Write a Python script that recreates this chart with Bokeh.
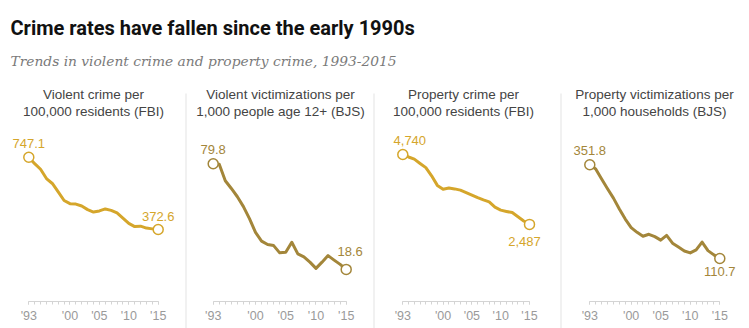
from bokeh.plotting import figure
from bokeh.models import Range1d, LinearAxis, FixedTicker, Label, BoxAnnotation
from bokeh.embed import file_html
from bokeh.resources import INLINE
from bokeh.core.properties import value

# ---------------- data ----------------
years = list(range(1993, 2016))
violent_fbi = [747.1, 713.6, 684.5, 636.6, 611.0, 567.6, 523.0, 506.5, 504.5, 494.4, 475.8,
               463.2, 469.0, 479.3, 471.8, 458.6, 431.9, 404.5, 388.0, 390.0, 380.0, 376.0, 372.6]
violent_bjs = [79.8, 79.5, 70.0, 65.5, 60.7, 55.0, 48.0, 40.0, 35.0, 33.0, 32.4,
               28.2, 28.5, 34.3, 27.6, 25.9, 22.8, 19.2, 22.8, 26.6, 24.0, 21.5, 18.6]
property_fbi = [4740, 4660, 4590, 4451, 4316, 4052, 3744, 3618, 3658, 3631, 3591,
                3514, 3432, 3347, 3276, 3215, 3041, 2946, 2905, 2868, 2734, 2596, 2487]
property_bjs = [351.8, 341.0, 315.0, 290.0, 266.0, 238.0, 212.0, 190.0, 178.0, 168.0, 173.0,
                167.0, 158.0, 170.0, 150.0, 140.0, 130.0, 125.0, 133.0, 153.0, 131.0, 120.0, 110.7]

tick_years = [1993, 2000, 2005, 2010, 2015]
tick_labels = ["'93", "'00", "'05", "'10", "'15"]

headers = [
    ("Violent crime per", "100,000 residents (FBI)"),
    ("Violent victimizations per", "1,000 people age 12+ (BJS)"),
    ("Property crime per", "100,000 residents (FBI)"),
    ("Property victimizations per", "1,000 households (BJS)"),
]
series = [violent_fbi, violent_bjs, property_fbi, property_bjs]

title = "Crime rates have fallen since the early 1990s"
subtitle = "Trends in violent crime and property crime, 1993-2015"

# ---------------- style / layout ----------------
W, H = 749, 328
GOLD = "#D5A62B"
OLIVE = "#A3863A"
colors = [GOLD, OLIVE, GOLD, OLIVE]
fmts = ["{:.1f}", "{:.1f}", "{:,.0f}", "{:.1f}"]
# (x px of first year, x px of last year, px per unit, header centre, label offsets first/last)
geom = [
    (28.3, 157.7, 0.19315, 93, (-14, -13)),
    (212.7, 345.7, 1.7256, 280, (-14, -18)),
    (402.3, 529.0, 0.03101, 463, (-14, 17)),
    (589.3, 719.3, 0.3886, 654, (-14, 13)),
]
xoffs = [(0, 0), (0, 4), (7, -5), (0, 0)]
ZERO_PX = 301
separators = [185, 373, 560]
SEP_TOP = 93

p = figure(width=W, height=H, output_backend="svg", toolbar_location=None,
           x_axis_type=None, y_axis_type=None, min_border=0,
           x_range=Range1d(0, 1), y_range=Range1d(0, 1),
           outline_line_color=None, background_fill_color="white")

for sx in separators:
    p.add_layout(BoxAnnotation(left=sx, right=sx + 1, bottom=0, top=H - SEP_TOP,
                               left_units="screen", right_units="screen",
                               top_units="screen", bottom_units="screen",
                               fill_color="#e4e4e4", fill_alpha=1.0, line_color=None))

for i, (vals, (xa, xb, k, cx, yoffs)) in enumerate(zip(series, geom)):
    s = (xb - xa) / (years[-1] - years[0])
    xs = years[0] - xa / s
    ys = -(H - ZERO_PX) / k
    xr, yr = f"x{i}", f"y{i}"
    p.extra_x_ranges[xr] = Range1d(xs, xs + W / s)
    p.extra_y_ranges[yr] = Range1d(ys, ys + H / k)
    c = colors[i]

    ax = LinearAxis(x_range_name=xr, y_range_name=yr, fixed_location=0,
                    ticker=FixedTicker(ticks=tick_years, minor_ticks=years),
                    major_label_overrides=dict(zip(tick_years, tick_labels)),
                    bounds=(years[0], years[-1]),
                    axis_line_color="#d4d4d4", major_tick_line_color="#d4d4d4",
                    minor_tick_line_color="#d4d4d4",
                    major_tick_in=0, major_tick_out=3, minor_tick_in=0, minor_tick_out=3,
                    major_label_text_color="#9a9a9a", major_label_text_font_size="12.5px",
                    major_label_text_font="Liberation Sans", major_label_standoff=4)
    p.add_layout(ax, "below")

    p.line(years, vals, x_range_name=xr, y_range_name=yr, line_width=3, line_color=c,
           line_join="round", line_cap="round")
    ends_x = [years[0], years[-1]]
    ends_y = [vals[0], vals[-1]]
    p.scatter(ends_x, ends_y, x_range_name=xr, y_range_name=yr, size=10,
              fill_color="white", line_color=c, line_width=1.5)
    p.text(x=ends_x, y=ends_y, text=[fmts[i].format(v) for v in ends_y],
           x_range_name=xr, y_range_name=yr, x_offset=list(xoffs[i]), y_offset=list(yoffs),
           text_align="center", text_baseline="middle", text_color=c,
           text_font=value("Liberation Sans"), text_font_size="13px")

    for line_txt, base in zip(headers[i], (94, 111)):
        p.add_layout(Label(x=cx, y=H - base, x_units="screen", y_units="screen",
                           text=line_txt, text_align="center", text_baseline="alphabetic",
                           text_font="Liberation Sans", text_font_size="13.5px",
                           text_color="#444444"))

p.add_layout(Label(x=10, y=H - 27, x_units="screen", y_units="screen", text=title,
                   text_font="Roboto", text_font_style="bold", text_font_size="20px",
                   text_color="#111111", text_baseline="alphabetic"))
p.add_layout(Label(x=10, y=H - 60, x_units="screen", y_units="screen", text=subtitle,
                   text_font="DejaVu Serif", text_font_style="italic", text_font_size="13.8px",
                   text_color="#7a7a7a", text_baseline="alphabetic"))

open("out.html", "w").write(file_html(p, INLINE))
